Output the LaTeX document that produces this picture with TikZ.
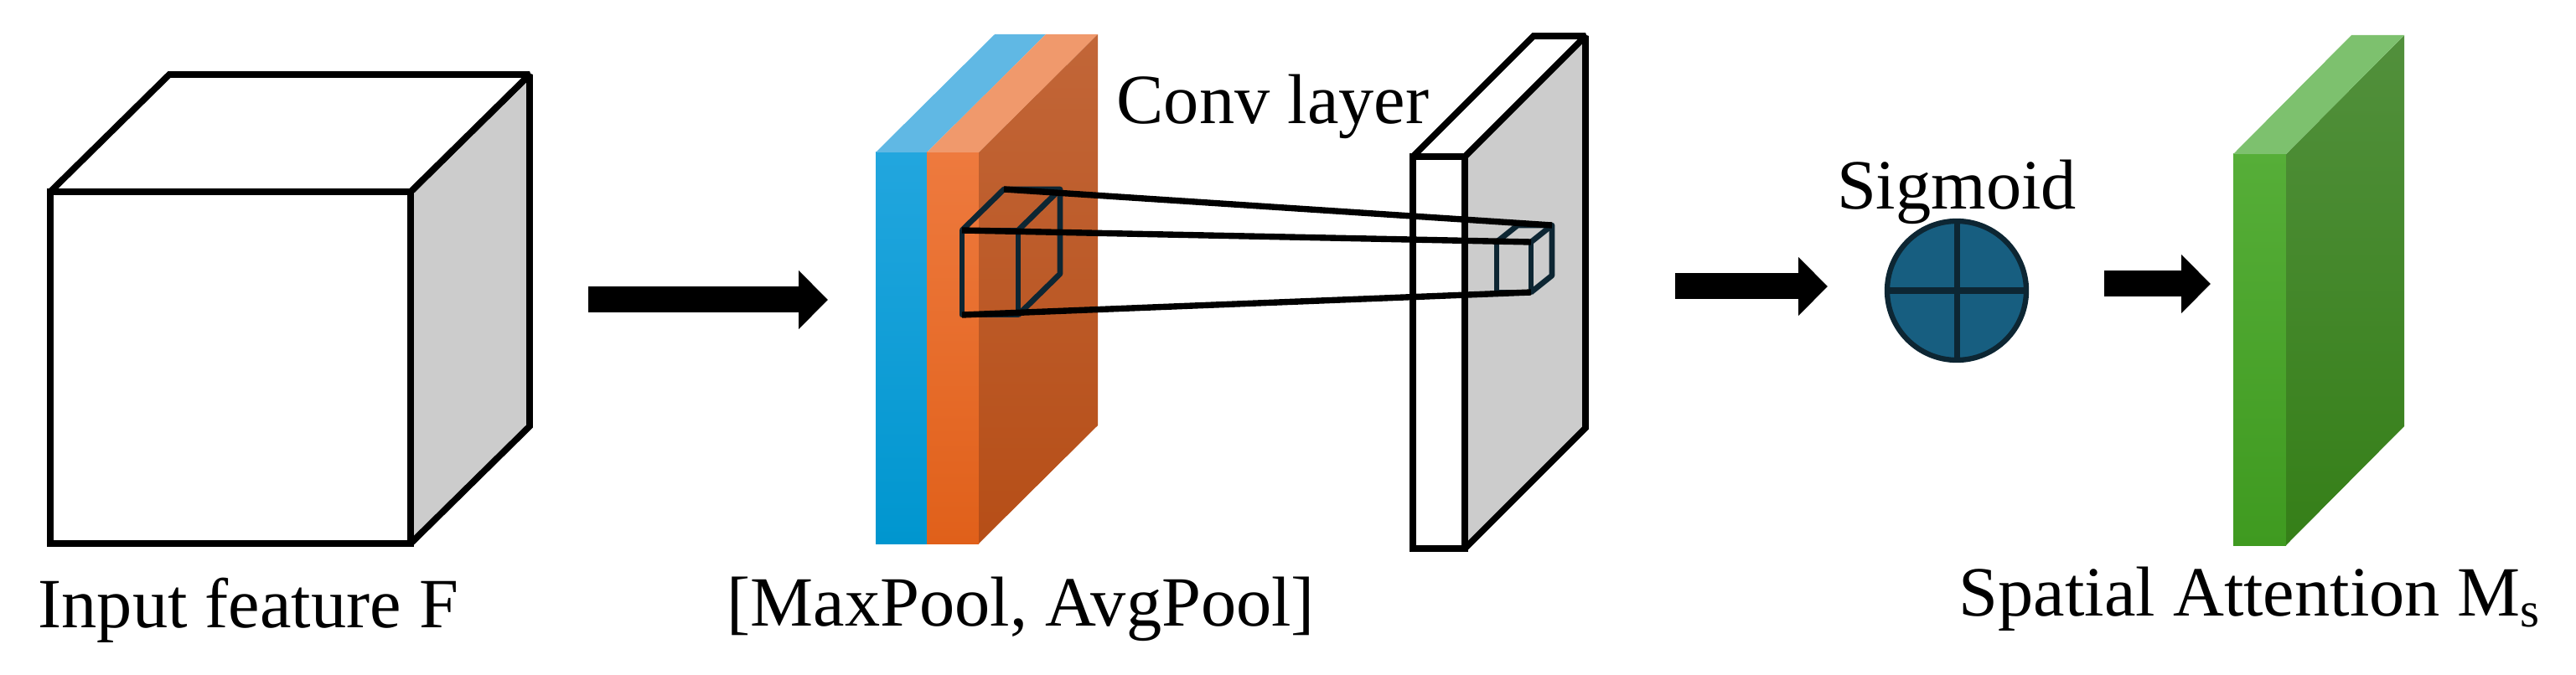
\documentclass[tikz,border=0pt]{standalone}
\usepackage{fontspec}
\setmainfont{Liberation Serif}
\usetikzlibrary{arrows.meta,positioning,calc}
\definecolor{sidegray}{HTML}{CCCCCC}
\definecolor{kernnavy}{HTML}{0D2633}
\definecolor{sigblue}{HTML}{175E80}

\begin{document}
\begin{tikzpicture}[
  >=Stealth,
  every node/.style={font=\fontsize{24}{28}\selectfont, inner sep=0pt},
  boxedge/.style={draw=black, line width=2.2pt, line join=miter, miter limit=2},
  kern/.style={draw=kernnavy, line width=1.9pt, line join=round},
  ray/.style={draw=black, line width=2.1pt},
  blk/.style={-{Triangle[length=0.35cm,width=0.68cm]}, line width=0.31cm},
  sigm/.style={circle, fill=sigblue, draw=kernnavy, line width=1.8pt, minimum size=1.66cm}
]
\useasboundingbox (0,0) rectangle (30.74,8.05);

% input cube
\draw[boxedge, fill=white] (0.60,1.56) rectangle (4.90,5.76);
\draw[boxedge, fill=sidegray] (4.90,1.56) -- ++(1.42,1.40) -- ++(0,4.20) -- ++(-1.42,-1.40) -- cycle;
\draw[boxedge, fill=white] (0.60,5.76) -- ++(1.42,1.40) -- ++(4.30,0) -- ++(-1.42,-1.40) -- cycle;

% pooled maps
\path[top color={rgb,255:red,34;green,166;blue,222}, bottom color={rgb,255:red,0;green,150;blue,207}] (10.45,1.56) rectangle (11.06,6.23);
\path[fill={rgb,255:red,96;green,184;blue,228}] (10.45,6.23) -- ++(1.42,1.41) -- ++(0.61,0) -- ++(-1.42,-1.41) -- cycle;
\path[top color={rgb,255:red,238;green,122;blue,62}, bottom color={rgb,255:red,224;green,96;blue,26}] (11.06,1.56) rectangle (11.68,6.23);
\path[fill={rgb,255:red,240;green,153;blue,108}] (11.06,6.23) -- ++(1.42,1.41) -- ++(0.62,0) -- ++(-1.42,-1.41) -- cycle;
\path[top color={rgb,255:red,194;green,102;blue,56}, bottom color={rgb,255:red,182;green,78;blue,23}] (11.68,1.56) -- ++(1.42,1.41) -- ++(0,4.67) -- ++(-1.42,-1.41) -- cycle;

% conv plate
\draw[boxedge, fill=white] (16.86,1.50) rectangle (17.48,6.18);
\draw[boxedge, fill=sidegray] (17.48,1.50) -- ++(1.44,1.44) -- ++(0,4.68) -- ++(-1.44,-1.44) -- cycle;
\draw[boxedge, fill=white] (16.86,6.18) -- ++(1.44,1.44) -- ++(0.62,0) -- ++(-1.44,-1.44) -- cycle;

% kernel on pooled maps
\coordinate (k1bl) at (11.48,4.29);
\coordinate (k1tl) at (11.48,5.30);
\coordinate (k1bk) at (11.98,5.79);
\draw[kern] (k1bl) rectangle (12.15,5.30);
\draw[kern] (k1tl) -- (k1bk) -- ++(0.67,0) -- ++(0,-1.01) -- (12.15,4.29);
\draw[kern] (12.15,5.30) -- ++(0.50,0.49);

% kernel on conv plate
\coordinate (k2br) at (18.27,4.56);
\coordinate (k2tr) at (18.27,5.16);
\coordinate (k2bk) at (18.52,5.36);
\draw[kern] (17.86,4.56) rectangle (k2tr);
\draw[kern] (17.86,5.16) -- ++(0.25,0.20) -- (k2bk) -- ++(0,-0.60) -- (k2br);
\draw[kern] (k2tr) -- (k2bk);

% receptive field rays
\draw[ray] (k1bk) -- (k2bk);
\draw[ray] (k1tl) -- (k2tr);
\draw[ray] (k1bl) -- (k2br);

% sigmoid
\node[sigm] (sig) at (23.35,4.58) {};
\draw[kernnavy, line width=2pt] (sig.north) -- (sig.south);
\draw[kernnavy, line width=2pt] (sig.west) -- (sig.east);

% attention map
\path[top color={rgb,255:red,86;green,174;blue,56}, bottom color={rgb,255:red,63;green,154;blue,32}] (26.65,1.54) rectangle (27.28,6.21);
\path[top color={rgb,255:red,82;green,144;blue,60}, bottom color={rgb,255:red,53;green,127;blue,24}] (27.28,1.54) -- ++(1.41,1.42) -- ++(0,4.67) -- ++(-1.41,-1.42) -- cycle;
\path[fill={rgb,255:red,125;green,193;blue,110}] (26.65,6.21) -- ++(1.41,1.42) -- ++(0.63,0) -- ++(-1.41,-1.42) -- cycle;

% arrows
\coordinate (a1s) at (7.02,4.47);  \coordinate (a1e) at (9.88,4.47);
\coordinate (a2s) at (19.99,4.63); \coordinate (a2e) at (21.81,4.63);
\coordinate (a3s) at (25.11,4.66); \coordinate (a3e) at (26.38,4.66);
\draw[blk] (a1s) -- (a1e);
\draw[blk] (a2s) -- (a2e);
\draw[blk] (a3s) -- (a3e);

% labels
\node[anchor=base west] (lin) at (0.45,0.56) {Input feature F};
\node[anchor=base west] (lpool) at (8.67,0.58) {[MaxPool, AvgPool]};
\node[anchor=base west] (lconv) at (13.32,6.57) {Conv layer};
\node[anchor=base] (lsig) at (23.35,5.55) {Sigmoid};
\node[anchor=base west] (lsam) at (23.37,0.70) {Spatial Attention M\textsubscript{s}};
\end{tikzpicture}
\end{document}
